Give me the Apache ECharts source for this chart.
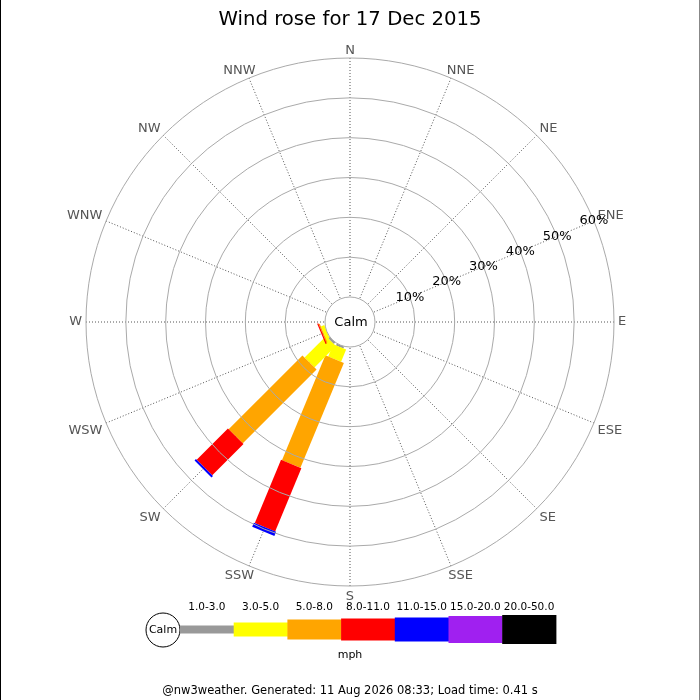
<!DOCTYPE html>
<html><head><meta charset="utf-8">
<script src="https://cdn.jsdelivr.net/npm/echarts@6/dist/echarts.min.js"></script>
<style>html,body{margin:0;padding:0;background:#fff}#c{width:700px;height:700px}</style>
</head><body><div id="c"></div>
<script>
// compass directions, listed starting at ENE (where the % scale is drawn), clockwise
const directions = ['ENE','E','ESE','SE','SSE','S','SSW','SW','WSW','W','WNW','NW','NNW','N','NNE','NE'];
const speedRanges = ['1.0-3.0','3.0-5.0','5.0-8.0','8.0-11.0','11.0-15.0','15.0-20.0','20.0-50.0'];
const rangeColors = ['#999999','#ffff00','#ffa500','#ff0000','#0000ff','#a020f0','#000000'];
const radiusTicks = [0,10,20,30,40,50,60];
// percent of time in each speed range (mph), per direction with wind
const freqWSW = [0, 0.9, 0.3, 0.3, 0, 0, 0];
const freqSW  = [0.5, 7.6, 26.2, 11.1, 0.5, 0, 0];
const freqSSW = [0.5, 3.3, 28.5, 17.2, 1.1, 0, 0];
const windDirs = ['SSW','SW','WSW'];
const windFreqs = [freqSSW, freqSW, freqWSW];

// style: leg width per speed range (px)
const legWidths = [8,14,20,22,24,27,29];
const FONT = 'DejaVu Sans';
const STEP = 360 / directions.length;

// build segments: [outerValue, angleValue, innerValue, rangeIndex]
const segs = [];
windDirs.forEach((d, i) => {
  const ang = directions.indexOf(d) * STEP;
  let cum = 0;
  windFreqs[i].forEach((v, k) => {
    if (v > 0) { segs.push([cum + v, ang, cum, k]); cum += v; }
  });
});

const chart = echarts.init(document.getElementById('c'), null, {renderer: 'canvas'});

// legend graphics built from ranges/colors
const legendEls = [];
const lx0 = 180, lw = 53.7, ly = 629.5;
const lfont = '10.5px "' + FONT + '"';
legendEls.push({type:'circle', shape:{cx:163, cy:630, r:17}, style:{fill:'#fff', stroke:'#000', lineWidth:1}});
legendEls.push({type:'text', x:163, y:630, style:{text:'Calm', align:'center', verticalAlign:'middle', font:'11px "' + FONT + '"', fill:'#000'}});
speedRanges.forEach((t, k) => {
  const h = legWidths[k];
  legendEls.push({type:'rect', shape:{x:lx0 + k*lw, y:ly - h/2, width:lw + 0.5, height:h}, style:{fill:rangeColors[k]}});
  legendEls.push({type:'text', x:lx0 + k*lw + lw/2, y:607, style:{text:t, align:'center', verticalAlign:'middle', font:lfont, fill:'#000'}});
});
legendEls.push({type:'text', x:350, y:655, style:{text:'mph', align:'center', verticalAlign:'middle', font:'11px "' + FONT + '"', fill:'#000'}});

const upper = ['WNW','NW','NNW','N','NNE','NE','ENE'];
const nearVertical = ['NNW','NNE','SSW','SSE'];

chart.setOption({
  animation: false,
  backgroundColor: '#fff',
  title: {
    text: 'Wind rose for 17 Dec 2015',
    left: 'center', top: 5,
    textStyle: {fontFamily: FONT, fontSize: 19.7, fontWeight: 'normal', color: '#000'}
  },
  polar: {center: [350, 322], radius: [25, 264]},
  angleAxis: {
    type: 'value',
    min: 0, max: 360, interval: STEP,
    startAngle: 22.5,
    clockwise: true,
    axisLine: {show: false},
    axisTick: {show: false},
    axisLabel: {
      margin: 4, color: '#555', fontSize: 13, fontFamily: FONT,
      formatter: function (v) {
        const i = Math.round(v / STEP);
        if (i >= directions.length) return '';
        const name = directions[i];
        const up = upper.indexOf(name) >= 0, nv = nearVertical.indexOf(name) >= 0;
        if (up && nv) return '{un|' + name + '}';
        if (up) return '{u|' + name + '}';
        if (nv) return '{n|' + name + '}';
        return name;
      },
      rich: {
        u: {lineHeight: 7, fontSize: 13, fontFamily: FONT, color: '#555'},
        un: {lineHeight: 7, width: 16, align: 'center', fontSize: 13, fontFamily: FONT, color: '#555'},
        n: {width: 16, align: 'center', fontSize: 13, fontFamily: FONT, color: '#555'}
      }
    },
    splitLine: {show: true, lineStyle: {color: '#555', type: [1, 2], width: 1}}
  },
  radiusAxis: {
    type: 'value', min: radiusTicks[0], max: radiusTicks[radiusTicks.length-1], interval: radiusTicks[1]-radiusTicks[0],
    axisLine: {show: false},
    axisTick: {show: false},
    axisLabel: {formatter: '{value}%', showMinLabel: false, margin: 0, align: 'center', verticalAlign: 'middle',
                color: '#000', fontSize: 13, fontFamily: FONT},
    splitLine: {show: true, lineStyle: {color: '#aaaaaa', width: 1}},
    z: 5
  },
  series: [{
    type: 'custom',
    coordinateSystem: 'polar',
    data: segs,
    renderItem: function (params, api) {
      const r1 = api.value(0), ang = api.value(1), r0 = api.value(2), k = api.value(3);
      const a = api.coord([radiusTicks[0], ang]);
      const b = api.coord([radiusTicks[radiusTicks.length-1], ang]);
      const L = Math.hypot(b[0]-a[0], b[1]-a[1]);
      const ux = (b[0]-a[0])/L, uy = (b[1]-a[1])/L;
      const nx = -uy, ny = ux;
      const p0 = api.coord([r0, ang]), p1 = api.coord([r1, ang]);
      const h = legWidths[k] / 2;
      return {
        type: 'polygon',
        shape: {points: [
          [p0[0]+nx*h, p0[1]+ny*h], [p1[0]+nx*h, p1[1]+ny*h],
          [p1[0]-nx*h, p1[1]-ny*h], [p0[0]-nx*h, p0[1]-ny*h]
        ]},
        style: {fill: rangeColors[k], stroke: null}
      };
    },
    z: 3
  }],
  graphic: [
    {type:'text', x:351, y:323, style:{text:'Calm', align:'center', verticalAlign:'middle', font:'13px "' + FONT + '"', fill:'#000'}, z: 10},
    {type:'group', children: legendEls},
    {type:'text', x:350, y:691, style:{text:'@nw3weather. Generated: 11 Aug 2026 08:33; Load time: 0.41 s', align:'center', verticalAlign:'middle', font:'11.5px "' + FONT + '"', fill:'#000'}},
    {type:'line', shape:{x1:0.5, y1:0, x2:0.5, y2:700}, style:{stroke:'#000', lineWidth:1}},
    {type:'line', shape:{x1:699.5, y1:0, x2:699.5, y2:700}, style:{stroke:'#888', lineWidth:1}}
  ]
});
</script></body></html>
